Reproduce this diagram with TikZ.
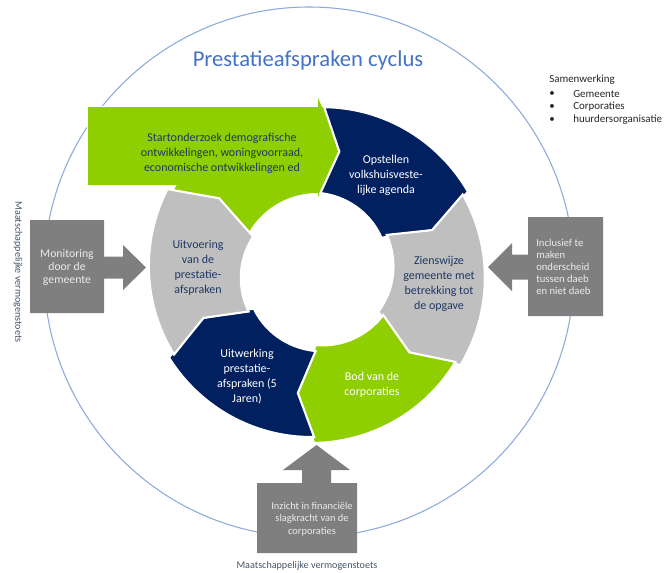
\documentclass[tikz,border=0pt]{standalone}
\usepackage{fontspec}
\setmainfont{Carlito}
\definecolor{cycgreen}{RGB}{143,206,0}
\definecolor{cycnavy}{RGB}{0,32,96}
\definecolor{cycgray}{RGB}{191,191,191}
\definecolor{boxgray}{RGB}{127,127,127}
\definecolor{ringline}{RGB}{142,169,219}
\definecolor{titleblue}{RGB}{68,114,196}
\definecolor{navytext}{RGB}{31,56,100}
\definecolor{labelgray}{RGB}{68,84,106}
\definecolor{boxtxt}{RGB}{235,235,235}
\definecolor{listtxt}{RGB}{38,38,38}
% One curved chevron of the cycle: tail angle, head angle, head flare, path style.
% Outer radius 165, inner radius 79, notch/point vertex on radius 122.5, 8 degrees deep.
\newcommand{\ringpart}[4]{%
  \path[#4] plot[domain=#1:#2,samples=30] (\x:{165+(#3)*((#1)-\x)/((#1)-(#2))})
    -- ({(#2)-8}:122.5)
    -- plot[domain=#2:#1,samples=30] (\x:{79-(#3)*((#1)-\x)/((#1)-(#2))})
    -- ({(#1)-8}:122.5) -- cycle;}
\begin{document}
\begin{tikzpicture}[x=0.75pt,y=-0.75pt,
  ring/.style={shift={(317,272)},yscale=-1},
  gap/.style={draw=white,line width=1.6pt},
  segtext/.style={align=center,inner sep=0pt,font=\fontsize{9}{11.25}\selectfont},
  boxtext/.style={text=boxtxt,inner sep=0pt},
  label/.style={text=labelgray,inner sep=0pt,font=\fontsize{7.6}{9}\selectfont},
  listtext/.style={text=listtxt,inner sep=0pt,anchor=west,font=\fontsize{8.2}{9.75}\selectfont}]
\path[use as bounding box] (0,0) rectangle (667,572);

% thin surrounding circle
\draw[ringline,line width=0.8pt] (309,272) circle[radius=265];

% grey call-out boxes with their arrows
\fill[boxgray] (30,220) -- (104,220) -- (104,256.5) -- (123,256.5) -- (123,245)
  -- (146,267.5) -- (123,290) -- (123,278.5) -- (104,278.5) -- (104,313) -- (30,313) -- cycle;
\fill[boxgray] (603,217) -- (528,217) -- (528,254.5) -- (512,254.5) -- (512,243)
  -- (488,267) -- (512,291) -- (512,279.5) -- (528,279.5) -- (528,316) -- (603,316) -- cycle;
\fill[boxgray] (257,553) -- (257,483) -- (302,483) -- (302,470) -- (283,470)
  -- (316.5,445) -- (350,470) -- (331,470) -- (331,483) -- (357,483) -- (357,553) -- cycle;

% green start arrow, joined to its ring part
\path[gap] (88,107) -- (318,107) -- (318,98) -- (342,152) -- (318,197) -- (318,185) -- (88,185) -- cycle;
\begin{scope}[ring]\ringpart{151}{87.5}{0}{gap}\end{scope}
\fill[cycgreen] (88,107) -- (318,107) -- (318,98) -- (342,152) -- (318,197) -- (318,185) -- (88,185) -- cycle;
\begin{scope}[ring]\ringpart{151}{87.5}{0}{fill=cycgreen}\end{scope}

% the other five steps of the cycle
\begin{scope}[ring]
  \ringpart{87.5}{28}{6}{fill=cycnavy,gap}
  \ringpart{28}{-33}{6}{fill=cycgray,gap}
  \ringpart{-33}{-91}{6}{fill=cycgreen,gap}
  \ringpart{269}{210}{6}{fill=cycnavy,gap}
  \ringpart{210}{151}{6}{fill=cycgray,gap}
\end{scope}

% step texts
\node[segtext,text=navytext] (start) at (222,153) {Startonderzoek demografische\\ontwikkelingen, woningvoorraad,\\economische ontwikkelingen ed};
\node[segtext,text=white] (agenda) at (386,175) {Opstellen\\volkshuisveste-\\lijke agenda};
\node[segtext,text=navytext] (zienswijze) at (439,284) {Zienswijze\\gemeente met\\betrekking tot\\de opgave};
\node[segtext,text=white] (bod) at (372,385) {Bod van de\\corporaties};
\node[segtext,text=white] (uitwerking) at (247,377) {Uitwerking\\prestatie-\\afspraken (5\\Jaren)};
\node[segtext,text=navytext] (uitvoering) at (198,268) {Uitvoering\\van de\\prestatie-\\afspraken};

% call-out texts
\node[boxtext,align=center,font=\fontsize{8.8}{9.75}\selectfont] (monitoring) at (67,267) {Monitoring\\door de\\gemeente};
\node[boxtext,align=left,anchor=west,font=\fontsize{8}{9}\selectfont] (daeb) at (536,267) {Inclusief te\\maken\\onderscheid\\tussen daeb\\en niet daeb};
\node[boxtext,align=center,font=\fontsize{7.8}{9.4}\selectfont] (slagkracht) at (312,519) {Inzicht in financiële\\slagkracht van de\\corporaties};

% title and side labels
\node[text=titleblue,anchor=base,inner sep=0pt,font=\fontsize{17}{20}\selectfont] (title) at (308,66) {Prestatieafspraken cyclus};
\node[label] (toetsbottom) at (307,566) {Maatschappelijke vermogenstoets};
\node[label,rotate=-90] (toetsleft) at (18,272) {Maatschappelijke vermogenstoets};

% partners
\node[listtext] (samen) at (549,80) {Samenwerking};
\node[listtext] (b1) at (549,94) {•};
\node[listtext] (i1) at (573,94) {Gemeente};
\node[listtext] (b2) at (549,107) {•};
\node[listtext] (i2) at (573,107) {Corporaties};
\node[listtext] (b3) at (549,120) {•};
\node[listtext] (i3) at (573,120) {huurdersorganisatie};
\end{tikzpicture}
\end{document}
